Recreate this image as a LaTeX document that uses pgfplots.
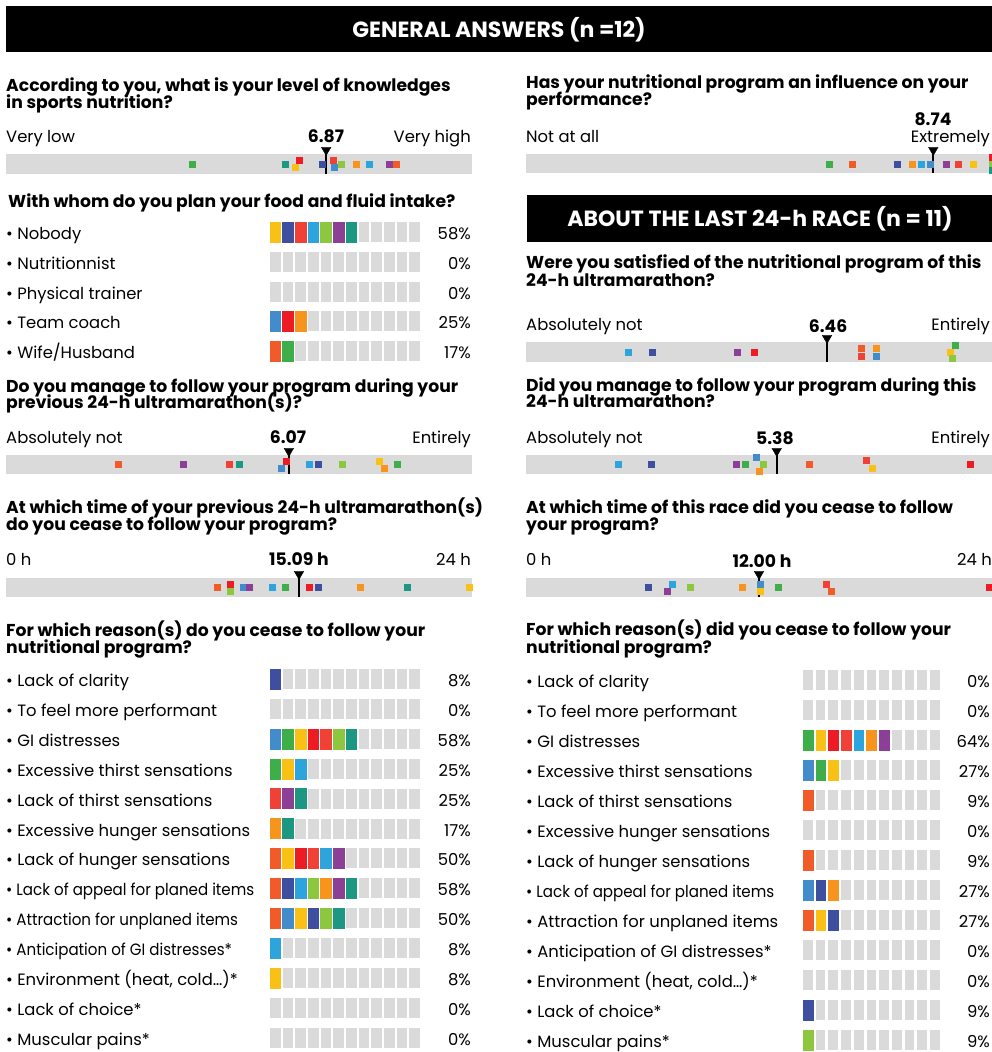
\documentclass[border=0pt]{standalone}
\usepackage{pgfplots}
\pgfplotsset{compat=1.18}
\usepackage{pgfplotstable}
\usepackage{fontspec}
\setmainfont{Poppins}

\definecolor{cye}{HTML}{F9C015}
\definecolor{cin}{HTML}{3E4FA0}
\definecolor{cto}{HTML}{EF4136}
\definecolor{csk}{HTML}{2EA4DD}
\definecolor{clg}{HTML}{8DC63F}
\definecolor{cpu}{HTML}{8B3F97}
\definecolor{cte}{HTML}{1C9882}
\definecolor{cmb}{HTML}{438CCB}
\definecolor{cbr}{HTML}{ED1C24}
\definecolor{cor}{HTML}{F7941D}
\definecolor{corr}{HTML}{F15A29}
\definecolor{cgr}{HTML}{3DAE4A}
\definecolor{gbar}{HTML}{DADADA}

\newcommand\rg{\fontsize{16.4}{18}\selectfont}
\newcommand\bq{\fontsize{17.2}{19}\selectfont\bfseries}
\newcommand\hd{\fontsize{22}{24}\selectfont\bfseries}
\newcommand\Lt[3]{\node[anchor=base west,inner sep=0pt] at (#1,#2) {\rg #3};}
\newcommand\Rt[3]{\node[anchor=base east,inner sep=0pt] at (#1,#2) {\rg #3};}
\newcommand\Qt[3]{\node[anchor=base west,inner sep=0pt] at (#1,#2) {\bq #3};}
\newcommand\Mt[3]{\node[anchor=base,inner sep=0pt] at (#1,#2) {\bq #3};}
\newcommand\sq[1]{\scalebox{0.92}[1]{#1}}

% rating strips: v = answer on the scale, dy = vertical offset of the square (px)
\pgfplotstableread[row sep=\\]{v dy c\\ 3.99 0 gr\\ 5.99 0 te\\ 6.29 -3.5 br\\ 6.20 3.5 ye\\ 6.78 0 in\\ 7.02 -3.5 to\\ 7.04 3.5 mb\\ 7.19 0 lg\\ 7.51 0 or\\ 7.79 0 sk\\ 8.22 0 pu\\ 8.37 0 orr\\}\tKnow
\pgfplotstableread[row sep=\\]{v dy c\\ 6.50 0 gr\\ 7.00 0 orr\\ 7.96 0 in\\ 8.28 0 or\\ 8.48 0 sk\\ 8.67 0 mb\\ 9.01 0 pu\\ 9.27 0 to\\ 9.59 0 ye\\ 10 -7 br\\ 10 0 lg\\ 10 6.5 te\\}\tInfl
\pgfplotstableread[row sep=\\]{v dy c\\ 2.40 0 orr\\ 3.80 0 pu\\ 4.79 0 to\\ 5.00 0 te\\ 5.90 3.5 mb\\ 6.01 -3.5 br\\ 6.50 0 sk\\ 6.70 0 in\\ 7.21 0 lg\\ 8.00 -3.5 ye\\ 8.11 3.5 or\\ 8.39 0 gr\\}\tPrevFol
\pgfplotstableread[row sep=\\]{v dy c\\ 10.86 0 orr\\ 11.53 -3.5 br\\ 11.53 3.5 lg\\ 12.20 0 mb\\ 12.51 0 pu\\ 13.70 0 sk\\ 14.36 0 gr\\ 15.60 0 br\\ 16.06 0 in\\ 18.23 0 or\\ 20.65 0 te\\ 23.84 0 ye\\}\tPrevTime
\pgfplotstableread[row sep=\\]{v dy c\\ 2.19 0 sk\\ 2.70 0 in\\ 4.53 0 pu\\ 4.89 0 br\\ 7.19 -4 orr\\ 7.19 4 to\\ 7.51 -4 or\\ 7.51 4 mb\\ 9.21 -7 gr\\ 9.10 0 ye\\ 9.14 6.5 lg\\}\tSatis
\pgfplotstableread[row sep=\\]{v dy c\\ 1.97 0 sk\\ 2.68 0 in\\ 4.51 0 pu\\ 4.70 0 gr\\ 4.94 -7 mb\\ 5.09 0 lg\\ 5.00 6.5 or\\ 6.07 0 orr\\ 7.30 -4 to\\ 7.42 4 ye\\ 9.53 0 br\\}\tLastFol
\pgfplotstableread[row sep=\\]{v dy c\\ 6.28 0 in\\ 7.26 3.5 pu\\ 7.52 -3.5 sk\\ 8.45 0 lg\\ 11.12 0 or\\ 12.05 -3.5 mb\\ 12.05 3.5 ye\\ 12.98 0 gr\\ 15.45 -3.5 to\\ 15.71 3.5 orr\\ 23.85 0 br\\}\tLastTime
% block charts: r = row, k = block, c = respondent colour
\pgfplotstableread[row sep=\\]{r k c\\ 1 1 ye\\ 1 2 in\\ 1 3 to\\ 1 4 sk\\ 1 5 lg\\ 1 6 pu\\ 1 7 te\\ 4 1 mb\\ 4 2 br\\ 4 3 or\\ 5 1 orr\\ 5 2 gr\\}\tWhom
\pgfplotstableread[row sep=\\]{r k c\\ 1 1 in\\
3 1 mb\\ 3 2 gr\\ 3 3 ye\\ 3 4 br\\ 3 5 to\\ 3 6 lg\\ 3 7 te\\
4 1 gr\\ 4 2 ye\\ 4 3 sk\\
5 1 to\\ 5 2 pu\\ 5 3 te\\
6 1 or\\ 6 2 te\\
7 1 orr\\ 7 2 ye\\ 7 3 br\\ 7 4 to\\ 7 5 sk\\ 7 6 pu\\
8 1 orr\\ 8 2 in\\ 8 3 sk\\ 8 4 lg\\ 8 5 or\\ 8 6 pu\\ 8 7 te\\
9 1 orr\\ 9 2 mb\\ 9 3 ye\\ 9 4 in\\ 9 5 lg\\ 9 6 te\\
10 1 sk\\ 11 1 ye\\}\tReasPrev
\pgfplotstableread[row sep=\\]{r k c\\
3 1 gr\\ 3 2 ye\\ 3 3 br\\ 3 4 to\\ 3 5 sk\\ 3 6 or\\ 3 7 pu\\
4 1 mb\\ 4 2 gr\\ 4 3 ye\\
5 1 orr\\ 7 1 orr\\
8 1 mb\\ 8 2 in\\ 8 3 or\\
9 1 orr\\ 9 2 ye\\ 9 3 in\\
12 1 in\\ 13 1 lg\\}\tReasLast

\pgfplotsset{
  dots/.style={only marks, scatter, scatter src=explicit symbolic, mark=square*, mark size=3pt,
    scatter/classes={ye={cye},in={cin},to={cto},sk={csk},lg={clg},pu={cpu},te={cte},
      mb={cmb},br={cbr},or={cor},orr={corr},gr={cgr}}},
  blocks/.style={dots, mark size=10pt, mark options={xscale=#1}},
  ratL/.style={x filter/.expression={6+46.6*x}},
  ratR/.style={x filter/.expression={526+46.6*x}},
  hrL/.style={x filter/.expression={6+19.417*x}},
  hrR/.style={x filter/.expression={526+19.417*x}},
  at y/.style={y filter/.expression={#1+y}},
  meanline/.style={black, line width=2.4pt, mark=none},
  meantri/.style={only marks, mark=triangle*, mark size=5.5pt, mark options={rotate=180, fill=black, draw=black}},
}

\begin{document}
\begin{tikzpicture}
\begin{scope}[x=1pt,y=-1pt]
% section headers
\fill[black] (6,6) rectangle (992,52);
\node[white, anchor=base, inner sep=0pt] at (499,37) {\hd GENERAL ANSWERS (n =12)};
\fill[black] (527,195) rectangle (992,242);
\node[white, anchor=base, inner sep=0pt] at (760,226) {\hd ABOUT THE LAST 24-h RACE (n = 11)};
% rating bars
\fill[gbar] (6,154) rectangle (472,174);
\fill[gbar] (526,154) rectangle (992,173);
\fill[gbar] (6,455) rectangle (472,474);
\fill[gbar] (6,578) rectangle (472,597);
\fill[gbar] (526,342) rectangle (992,362);
\fill[gbar] (526,455) rectangle (992,474);
\fill[gbar] (526,578) rectangle (992,597);
% empty blocks
\foreach \r in {0,...,4} \foreach \k in {0,...,11} \fill[gbar] ({270+12.67*\k},{222+29.8*\r}) rectangle +(10.6,20);
\foreach \r in {0,...,12} \foreach \k in {0,...,11} \fill[gbar] ({270+12.67*\k},{669+29.9*\r}) rectangle +(10.6,20);
\foreach \r in {0,...,12} \foreach \k in {0,...,10} \fill[gbar] ({803+12.7*\k},{670+30*\r}) rectangle +(9.7,20);

% left column
\Qt{6}{91}{According to you, what is your level of knowledges}
\Qt{6}{108}{in sports nutrition?}
\Lt{6}{142}{Very low}\Rt{471}{142}{Very high}\Mt{326}{142}{6.87}
\Qt{8}{207}{With whom do you plan your food and fluid intake?}
\Lt{6}{239.5}{• Nobody}\Rt{471}{239.5}{58\%}
\Lt{6}{269.3}{• Nutritionnist}\Rt{471}{269.3}{0\%}
\Lt{6}{299.1}{• Physical trainer}\Rt{471}{299.1}{0\%}
\Lt{6}{328.9}{• Team coach}\Rt{471}{328.9}{25\%}
\Lt{6}{358.7}{• Wife/Husband}\Rt{471}{358.7}{17\%}
\Qt{6}{392}{Do you manage to follow your program during your}
\Qt{6}{408}{previous 24-h ultramarathon(s)?}
\Lt{6}{443}{Absolutely not}\Rt{471}{443}{Entirely}\Mt{288}{443}{6.07}
\Qt{6}{513}{At which time of your previous 24-h ultramarathon(s)}
\Qt{6}{530}{do you cease to follow your program?}
\Lt{6}{565}{0 h}\Rt{471}{565}{24 h}\Mt{299}{565}{15.09 h}
\Qt{6}{636}{For which reason(s) do you cease to follow your}
\Qt{6}{653}{nutritional program?}
\Lt{6}{686.5}{• Lack of clarity}\Rt{471}{686.5}{8\%}
\Lt{6}{716.4}{• To feel more performant}\Rt{471}{716.4}{0\%}
\Lt{6}{746.3}{• GI distresses}\Rt{471}{746.3}{58\%}
\Lt{6}{776.2}{• Excessive thirst sensations}\Rt{471}{776.2}{25\%}
\Lt{6}{806.1}{• Lack of thirst sensations}\Rt{471}{806.1}{25\%}
\Lt{6}{836.0}{• Excessive hunger sensations}\Rt{471}{836.0}{17\%}
\Lt{6}{865.9}{• Lack of hunger sensations}\Rt{471}{865.9}{50\%}
\Lt{6}{895.8}{\sq{• Lack of appeal for planed items}}\Rt{471}{895.8}{58\%}
\Lt{6}{925.7}{\sq{• Attraction for unplaned items}}\Rt{471}{925.7}{50\%}
\Lt{6}{955.6}{\sq{• Anticipation of GI distresses*}}\Rt{471}{955.6}{8\%}
\Lt{6}{985.5}{• Environment (heat, cold…)*}\Rt{471}{985.5}{8\%}
\Lt{6}{1015.4}{• Lack of choice*}\Rt{471}{1015.4}{0\%}
\Lt{6}{1045.3}{• Muscular pains*}\Rt{471}{1045.3}{0\%}

% right column
\Qt{526}{88}{Has your nutritional program an influence on your}
\Qt{526}{105}{performance?}
\Lt{526}{142}{Not at all}\Rt{990}{142}{Extremely}\Mt{933}{125}{8.74}
\Qt{526}{268}{Were you satisfied of the nutritional program of this}
\Qt{526}{286}{24-h ultramarathon?}
\Lt{526}{330}{Absolutely not}\Rt{990}{330}{Entirely}\Mt{828}{332}{6.46}
\Qt{526}{391}{Did you manage to follow your program during this}
\Qt{526}{407}{24-h ultramarathon?}
\Lt{526}{443}{Absolutely not}\Rt{990}{443}{Entirely}\Mt{775}{444}{5.38}
\Qt{526}{513}{At which time of this race did you cease to follow}
\Qt{526}{530}{your program?}
\Lt{526}{565}{0 h}\Rt{992}{565}{24 h}\Mt{762}{567}{12.00 h}
\Qt{526}{635}{For which reason(s) did you cease to follow your}
\Qt{526}{653}{nutritional program?}
\Lt{526}{687.5}{• Lack of clarity}\Rt{990}{687.5}{0\%}
\Lt{526}{717.5}{• To feel more performant}\Rt{990}{717.5}{0\%}
\Lt{526}{747.5}{• GI distresses}\Rt{990}{747.5}{64\%}
\Lt{526}{777.5}{• Excessive thirst sensations}\Rt{990}{777.5}{27\%}
\Lt{526}{807.5}{• Lack of thirst sensations}\Rt{990}{807.5}{9\%}
\Lt{526}{837.5}{• Excessive hunger sensations}\Rt{990}{837.5}{0\%}
\Lt{526}{867.5}{• Lack of hunger sensations}\Rt{990}{867.5}{9\%}
\Lt{526}{897.5}{\sq{• Lack of appeal for planed items}}\Rt{990}{897.5}{27\%}
\Lt{526}{927.5}{• Attraction for unplaned items}\Rt{990}{927.5}{27\%}
\Lt{526}{957.5}{• Anticipation of GI distresses*}\Rt{990}{957.5}{0\%}
\Lt{526}{987.5}{• Environment (heat, cold…)*}\Rt{990}{987.5}{0\%}
\Lt{526}{1017.5}{• Lack of choice*}\Rt{990}{1017.5}{9\%}
\Lt{526}{1047.5}{• Muscular pains*}\Rt{990}{1047.5}{9\%}
\end{scope}

\begin{axis}[at={(0,0)}, anchor=north west, scale only axis, width=992pt, height=1052pt,
  xmin=0, xmax=992, ymin=0, ymax=1052, y dir=reverse, hide axis, clip=false]
% rating strips
\addplot[dots, ratL, at y=164] table[x=v, y=dy, meta=c] {\tKnow};
\addplot[meanline, ratL] coordinates {(6.87,150) (6.87,174)};
\addplot[meantri, ratL] coordinates {(6.87,150)};
\addplot[dots, ratR, at y=164] table[x=v, y=dy, meta=c] {\tInfl};
\addplot[meanline, ratR] coordinates {(8.74,150) (8.74,173)};
\addplot[meantri, ratR] coordinates {(8.74,150)};
\addplot[dots, ratL, at y=464.5] table[x=v, y=dy, meta=c] {\tPrevFol};
\addplot[meanline, ratL] coordinates {(6.07,451) (6.07,474)};
\addplot[meantri, ratL] coordinates {(6.07,451)};
\addplot[dots, hrL, at y=587.5] table[x=v, y=dy, meta=c] {\tPrevTime};
\addplot[meanline, hrL] coordinates {(15.09,574) (15.09,597)};
\addplot[meantri, hrL] coordinates {(15.09,574)};
\addplot[dots, ratR, at y=352] table[x=v, y=dy, meta=c] {\tSatis};
\addplot[meanline, ratR] coordinates {(6.46,338) (6.46,362)};
\addplot[meantri, ratR] coordinates {(6.46,338)};
\addplot[dots, ratR, at y=464.5] table[x=v, y=dy, meta=c] {\tLastFol};
\addplot[meanline, ratR] coordinates {(5.38,451) (5.38,474)};
\addplot[meantri, ratR] coordinates {(5.38,451)};
\addplot[dots, hrR, at y=587.5] table[x=v, y=dy, meta=c] {\tLastTime};
\addplot[meanline, hrR] coordinates {(12.00,574) (12.00,597)};
\addplot[meantri, hrR] coordinates {(12.00,574)};
% block charts
\addplot[blocks=0.53, x filter/.expression={262.6+12.67*x}, y filter/.expression={202.2+29.8*y}]
  table[x=k, y=r, meta=c] {\tWhom};
\addplot[blocks=0.53, x filter/.expression={262.6+12.67*x}, y filter/.expression={649.1+29.9*y}]
  table[x=k, y=r, meta=c] {\tReasPrev};
\addplot[blocks=0.485, x filter/.expression={795.15+12.7*x}, y filter/.expression={650+30*y}]
  table[x=k, y=r, meta=c] {\tReasLast};
\end{axis}
\pgfresetboundingbox
\path[use as bounding box] (0,0) rectangle (992pt,-1052pt);
\end{tikzpicture}
\end{document}
